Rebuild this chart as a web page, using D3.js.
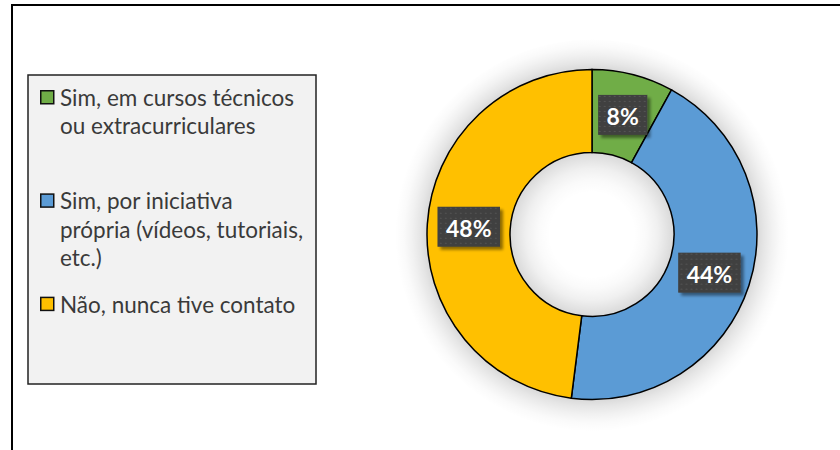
<!DOCTYPE html>
<html>
<head>
<meta charset="utf-8">
<script src="https://cdn.jsdelivr.net/npm/d3@7"></script>
<style>
  body { margin: 0; background: #fff; }
  svg { display: block; }
</style>
</head>
<body>
<div id="chart"></div>
<script>
// data
var categories = [
  'Sim, em cursos técnicos ou extracurriculares',
  'Sim, por iniciativa própria (vídeos, tutoriais, etc.)',
  'Não, nunca tive contato'
];
var values = [8, 44, 48];
var colors = ['#70AD47', '#5B9BD5', '#FFC000'];

var svgWidth = 840;
var svgHeight = 450;

var svg = d3.select('#chart').append('svg')
  .attr('width', svgWidth)
  .attr('height', svgHeight);

var defs = svg.append('defs');

// donut geometry
var cx = 592, cy = 234.5;
var outerR = 165, innerR = 82;
var haloR = outerR + 32;

// soft halo around the ring, done with a radial gradient
var halo = defs.append('radialGradient')
  .attr('id', 'halo')
  .attr('gradientUnits', 'userSpaceOnUse')
  .attr('cx', 0).attr('cy', 0).attr('r', haloR);
[[innerR - 40, 0], [innerR - 28, 0.02], [innerR - 16, 0.06], [innerR - 7, 0.11], [innerR, 0.15],
 [outerR, 0.15], [outerR + 7, 0.1], [outerR + 15, 0.055], [outerR + 23, 0.02], [haloR, 0]]
  .forEach(function(s) {
    halo.append('stop')
      .attr('offset', s[0] / haloR)
      .attr('stop-color', '#000')
      .attr('stop-opacity', s[1]);
  });

// shadow under the label boxes
var boxShadow = defs.append('filter')
  .attr('id', 'boxShadow')
  .attr('x', '-30%').attr('y', '-30%')
  .attr('width', '160%').attr('height', '160%');
boxShadow.append('feGaussianBlur').attr('in', 'SourceAlpha').attr('stdDeviation', 1.5).attr('result', 'b');
boxShadow.append('feOffset').attr('in', 'b').attr('dx', 3).attr('dy', 3).attr('result', 'o');
boxShadow.append('feComponentTransfer').attr('in', 'o').attr('result', 's')
  .append('feFuncA').attr('type', 'linear').attr('slope', 0.45);
var bm = boxShadow.append('feMerge');
bm.append('feMergeNode').attr('in', 's');
bm.append('feMergeNode').attr('in', 'SourceGraphic');

// dotted texture of the label boxes
var pat = defs.append('pattern')
  .attr('id', 'dots')
  .attr('width', 5).attr('height', 5)
  .attr('patternUnits', 'userSpaceOnUse');
pat.append('rect').attr('width', 5).attr('height', 5).attr('fill', '#3f3f3f');
pat.append('rect').attr('x', 1).attr('y', 1).attr('width', 2).attr('height', 1).attr('fill', '#555');

// outer frame
svg.append('rect')
  .attr('x', 12).attr('y', 5)
  .attr('width', 900).attr('height', 500)
  .attr('fill', '#fff')
  .attr('stroke', '#000')
  .attr('stroke-width', 2);

// legend
var legend = svg.append('g');
legend.append('rect')
  .attr('x', 28).attr('y', 75)
  .attr('width', 288).attr('height', 309)
  .attr('fill', '#F2F2F2')
  .attr('stroke', '#222')
  .attr('stroke-width', 1.5);

var legendY = d3.scaleBand()
  .domain(categories)
  .range([90, 400]);

var items = legend.selectAll('.item')
  .data(categories)
  .enter()
  .append('g')
  .attr('class', 'item')
  .attr('transform', d => `translate(40, ${legendY(d)})`);

items.append('rect')
  .attr('x', 0.75).attr('y', 0.75)
  .attr('width', 13).attr('height', 13)
  .attr('fill', (d, i) => colors[i])
  .attr('stroke', '#111')
  .attr('stroke-width', 1.5);

items.append('text')
  .attr('x', 20)
  .attr('y', 16)
  .attr('font-family', 'Lato, "Open Sans", sans-serif')
  .attr('font-size', '22.5px')
  .attr('fill', '#3a3a3a')
  .text(d => d)
  .call(wrap, 246, 28.4);

// wrap text into tspans
function wrap(text, maxWidth, lineHeight) {
  text.each(function() {
    var t = d3.select(this);
    var words = t.text().split(' ');
    var x = t.attr('x');
    t.text(null);
    var line = [];
    var tspan = t.append('tspan').attr('x', x).attr('dy', 0);
    words.forEach(function(w) {
      line.push(w);
      tspan.text(line.join(' '));
      if (tspan.node().getComputedTextLength() > maxWidth && line.length > 1) {
        line.pop();
        tspan.text(line.join(' '));
        line = [w];
        tspan = t.append('tspan').attr('x', x).attr('dy', lineHeight).text(w);
      }
    });
  });
}

// donut
var pie = d3.pie().sort(null).value(d => d);
var arc = d3.arc().innerRadius(innerR).outerRadius(outerR);

var donut = svg.append('g')
  .attr('transform', `translate(${cx}, ${cy})`);

donut.append('circle')
  .attr('cy', 2)
  .attr('r', haloR)
  .attr('fill', 'url(#halo)');

donut.append('g')
  .selectAll('path')
  .data(pie(values))
  .enter()
  .append('path')
  .attr('d', arc)
  .attr('fill', (d, i) => colors[i])
  .attr('stroke', '#000')
  .attr('stroke-width', 1.5);

// data labels at the centroids
var labels = donut.selectAll('.lbl')
  .data(pie(values))
  .enter()
  .append('g')
  .attr('class', 'lbl')
  .attr('transform', d => `translate(${arc.centroid(d)})`);

labels.append('rect')
  .attr('fill', 'url(#dots)')
  .attr('filter', 'url(#boxShadow)');

labels.append('text')
  .attr('text-anchor', 'middle')
  .attr('dy', '0.38em')
  .attr('y', 1.5)
  .attr('font-family', 'Lato, "Open Sans", sans-serif')
  .attr('font-weight', 'bold')
  .attr('font-size', '23px')
  .attr('fill', '#fff')
  .text(d => d.data + '%');

labels.each(function() {
  var g = d3.select(this);
  var w = g.select('text').node().getComputedTextLength() + 17;
  g.select('rect')
    .attr('x', -w / 2).attr('y', -20)
    .attr('width', w).attr('height', 40);
});
</script>
</body>
</html>
